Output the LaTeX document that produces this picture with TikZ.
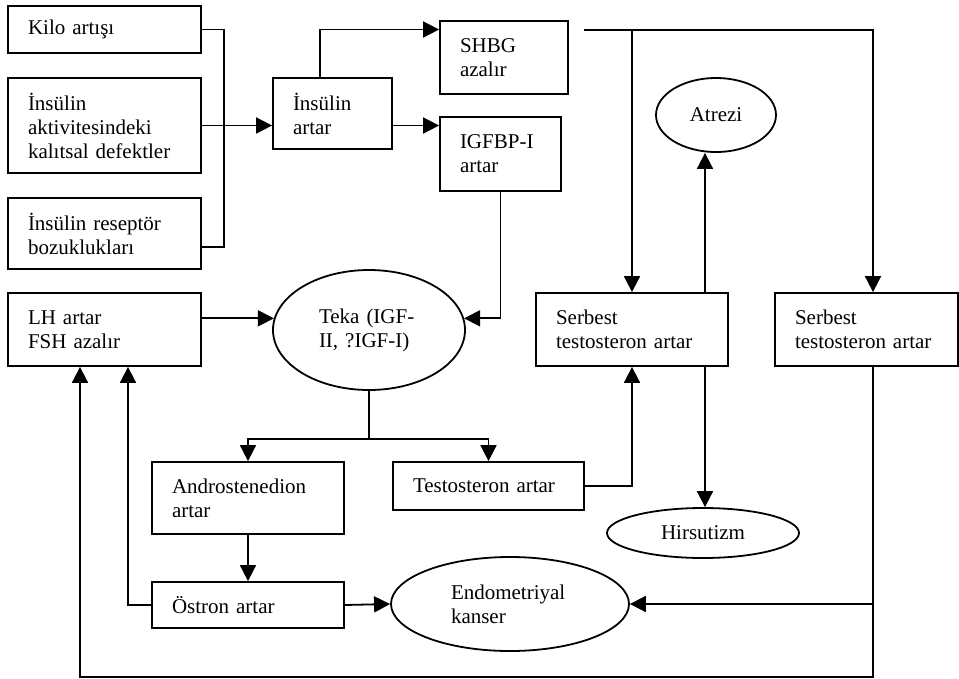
\documentclass[tikz,border=0pt]{standalone}
\usepackage{fontspec}
\setmainfont{Liberation Serif}
\usepackage{tikz}
\usetikzlibrary{shapes.geometric,arrows.meta}

\begin{document}
\begin{tikzpicture}[x=1pt, y=-1pt,
				font=\fontsize{21}{24}\selectfont,
				box/.style={draw=black, line width=1.8pt, align=left, inner xsep=20pt, inner ysep=0pt},
				oval/.style={ellipse, draw=black, line width=1.8pt, align=left, inner sep=0pt},
				line/.style={line width=1.8pt},
				arr/.style={line width=1.8pt, -{Triangle[length=16pt,width=16pt]}}]
				\useasboundingbox (0,0) rectangle (959,678);
				\node[box,
				text width=153pt,
				minimum height=47pt] (1) at(104.5,29.5){Kilo artışı};
				\node[box,
				text width=153pt,
				minimum height=95pt] (2) at(104.5,125.5){İnsülin\\aktivitesindeki\\kalıtsal defektler};
				\node[box,
				text width=153pt,
				minimum height=71pt] (3) at(104.5,233.5){İnsülin reseptör\\bozuklukları};
				\node[box,
				text width=79pt,
				minimum height=71pt] (4) at(332.5,113.5){İnsülin\\artar};
				\node[box,
				text width=88pt,
				minimum height=73pt] (5) at(504,57.5){SHBG\\azalır};
				\node[box,
				text width=81pt,
				minimum height=74pt] (6) at(500.5,154){IGFBP-I\\artar};
				\node[oval,
				minimum width=120pt,
				minimum height=74pt] (7) at(716,115){Atrezi};
				\node[box,
				text width=153pt,
				minimum height=73pt] (8) at(104.5,329.5){LH artar\\FSH azalır};
				\node[oval,
				text width=100pt,
				minimum width=192pt,
				minimum height=120pt] (9) at(369,330){Teka (IGF-\\II, ?IGF-I)};
				\node[box,
				text width=152pt,
				minimum height=73pt] (10) at(632,329.5){Serbest\\testosteron artar};
				\node[box,
				text width=143pt,
				minimum height=73pt] (11) at(866.5,329.5){Serbest\\testosteron artar};
				\node[box,
				text width=152pt,
				minimum height=72pt] (12) at(248,498){Androstenedion\\artar};
				\node[box,
				text width=151pt,
				minimum height=48pt] (13) at(488.5,486){Testosteron artar};
				\node[oval,
				minimum width=192pt,
				minimum height=50pt] (14) at(703,533){Hirsutizm};
				\node[box,
				text width=152pt,
				minimum height=46pt] (15) at(248,605){Östron artar};
				\node[oval,
				text width=118pt,
				minimum width=238pt,
				minimum height=94pt] (16) at(510,604){Endometriyal\\kanser};
				\coordinate (bus) at (224,126);
				\coordinate (r) at ([yshift=-13.5pt]3.east);
				\coordinate (s) at (584,30);
				\coordinate (a) at ([xshift=73pt]10.north);
				\coordinate (h) at ([xshift=73pt]10.south);
				\coordinate (d) at ([xshift=6.5pt]11.south);
				\coordinate (l1) at ([xshift=-24.5pt]8.south);
				\coordinate (l2) at ([xshift=23.5pt]8.south);
				\coordinate (bot) at (80,677);
				\draw[line] (1.east) -| (bus) |- (r);
				\draw[arr] (2.east) -- (4.west |- 2.east);
				\draw[arr] ([xshift=-12.5pt]4.north) |- (5.west |- 1.east);
				\draw[arr] (4.east |- 2.east) -- (6.west |- 2.east);
				\draw[arr] (s) -| ([xshift=6.5pt]11.north);
				\draw[arr] (s -| 10.north) -- (10.north);
				\draw[arr] (a) -- (a |- 7.south);
				\draw[arr] (h) -- (h |- 14.north);
				\draw[arr] (6.south) |- (9.7);
				\draw[arr] (8.east |- 9.173) -- (9.173);
				\draw[line] (9.south) -- ++(0,48) coordinate (sp);
				\draw[arr] (sp) -| (12.north);
				\draw[arr] (sp) -| (13.north);
				\draw[arr] (12.south) -- (15.north);
				\draw[arr] (15.east) -- (16.west);
				\draw[arr] (15.west) -| (l2);
				\draw[arr] (13.east) -| (10.south);
				\draw[arr] (d) |- (bot) -- (l1);
				\draw[arr] (d |- 16.east) -- (16.east);
			\end{tikzpicture}
\end{document}
